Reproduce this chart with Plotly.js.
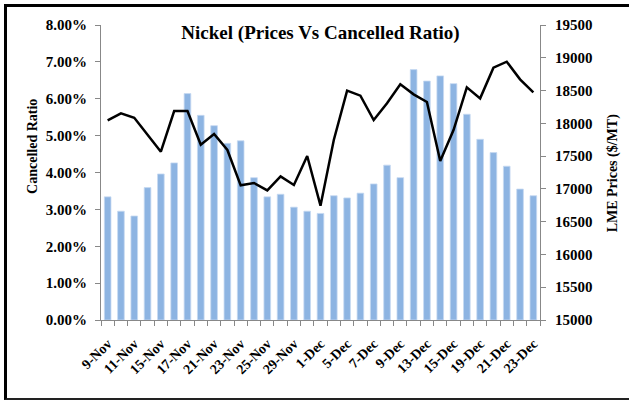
<!DOCTYPE html>
<html>
<head>
<meta charset="utf-8">
<script src="https://cdn.plot.ly/plotly-3.0.1.min.js"></script>
<style>
  html, body { margin: 0; padding: 0; background: #fff; }
  #wrap { position: relative; width: 629px; height: 400px; overflow: hidden; }
  #chart { position: absolute; left: 0; top: 0; width: 629px; height: 400px; }
  #frame { position: absolute; left: 4px; top: 4px; width: 640px; height: 391px;
           border-top: 3px solid #000; border-left: 3px solid #000; border-bottom: 2px solid #222;
           pointer-events: none; }
</style>
</head>
<body>
<div id="wrap">
  <div id="chart"></div>
  <div id="frame"></div>
</div>
<script>
const dates = ["9-Nov","10-Nov","11-Nov","14-Nov","15-Nov","16-Nov","17-Nov","18-Nov",
  "21-Nov","22-Nov","23-Nov","24-Nov","25-Nov","28-Nov","29-Nov","30-Nov",
  "1-Dec","2-Dec","5-Dec","6-Dec","7-Dec","8-Dec","9-Dec","12-Dec",
  "13-Dec","14-Dec","15-Dec","16-Dec","19-Dec","20-Dec","21-Dec","22-Dec","23-Dec"];

const cancelledRatio = [0.0334,0.0295,0.0282,0.0359,0.0396,0.0426,0.0614,0.0555,
  0.0527,0.0479,0.0486,0.0386,0.0334,0.0341,0.0306,0.0295,
  0.0289,0.0337,0.0331,0.0344,0.0369,0.0420,0.0386,0.0679,
  0.0648,0.0662,0.0641,0.0558,0.0490,0.0454,0.0417,0.0355,0.0337];

const lmePrices = [18046,18153,18086,17822,17567,18188,18188,17674,
  17837,17593,17054,17090,16978,17191,17059,17502,
  16744,17746,18498,18422,18051,18305,18595,18442,
  18325,17425,17898,18549,18381,18849,18940,18671,18473];

const tickLabels = dates.map((d, i) => (i % 2 === 0 ? d : ""));
const ratioTicks = [0,0.01,0.02,0.03,0.04,0.05,0.06,0.07,0.08];
const priceTicks = [15000,15500,16000,16500,17000,17500,18000,18500,19000,19500];

const fontFam = "'Liberation Serif', 'DejaVu Serif', serif";
const tickFont = { family: fontFam, size: 15, color: "#000", weight: "bold" };

const traces = [
  {
    type: "bar",
    x: dates,
    y: cancelledRatio,
    name: "Cancelled Ratio",
    marker: { color: "#8DB4E2", line: { color: "#C6D9F1", width: 0.8 } },
    yaxis: "y"
  },
  {
    type: "scatter",
    mode: "lines",
    x: dates,
    y: lmePrices,
    name: "LME Prices",
    line: { color: "#000000", width: 2.5 },
    yaxis: "y2"
  }
];

const layout = {
  width: 629,
  height: 400,
  margin: { l: 101, r: 89, t: 25, b: 80 },
  paper_bgcolor: "#ffffff",
  plot_bgcolor: "#ffffff",
  showlegend: false,
  bargap: 0.5,
  font: { family: fontFam, color: "#000", size: 13 },
  title: {
    text: "<b>Nickel (Prices Vs Cancelled Ratio)</b>",
    font: { family: fontFam, size: 19, color: "#000" },
    x: 0.5, xref: "paper", xanchor: "center",
    y: 0.918, yref: "container", yanchor: "middle"
  },
  xaxis: {
    type: "category",
    tickmode: "array",
    tickvals: dates,
    ticktext: tickLabels,
    tickson: "boundaries",
    ticks: "outside",
    ticklen: 5,
    tickcolor: "#888",
    tickangle: -45,
    ticklabelstandoff: 9,
    tickfont: { family: fontFam, size: 14, color: "#000", weight: "bold" },
    showline: true,
    linecolor: "#888",
    linewidth: 1,
    showgrid: false,
    zeroline: false
  },
  yaxis: {
    range: [0, 0.08],
    tickmode: "array",
    tickvals: ratioTicks,
    tickformat: ".2%",
    ticks: "outside",
    ticklen: 5,
    tickcolor: "#888",
    ticklabelstandoff: 5,
    tickfont: tickFont,
    showline: true,
    linecolor: "#888",
    linewidth: 1,
    showgrid: false,
    zeroline: false
  },
  yaxis2: {
    overlaying: "y",
    side: "right",
    range: [15000, 19500],
    tickmode: "array",
    tickvals: priceTicks,
    tickformat: "d",
    ticks: "outside",
    ticklen: 5,
    tickcolor: "#888",
    ticklabelstandoff: 6,
    tickfont: tickFont,
    showline: true,
    linecolor: "#888",
    linewidth: 1,
    showgrid: false,
    zeroline: false
  },
  annotations: [
    {
      text: "<b>Cancelled Ratio</b>",
      xref: "paper", yref: "paper",
      x: -0.155, y: 0.59,
      xanchor: "center", yanchor: "middle",
      textangle: -90, showarrow: false,
      font: { family: fontFam, size: 14, color: "#000" }
    },
    {
      text: "<b>LME Prices ($/MT)</b>",
      xref: "paper", yref: "paper",
      x: 1.166, y: 0.5,
      xanchor: "center", yanchor: "middle",
      textangle: -90, showarrow: false,
      font: { family: fontFam, size: 14, color: "#000" }
    }
  ]
};

Plotly.newPlot("chart", traces, layout, { displayModeBar: false, staticPlot: true });
</script>
</body>
</html>
